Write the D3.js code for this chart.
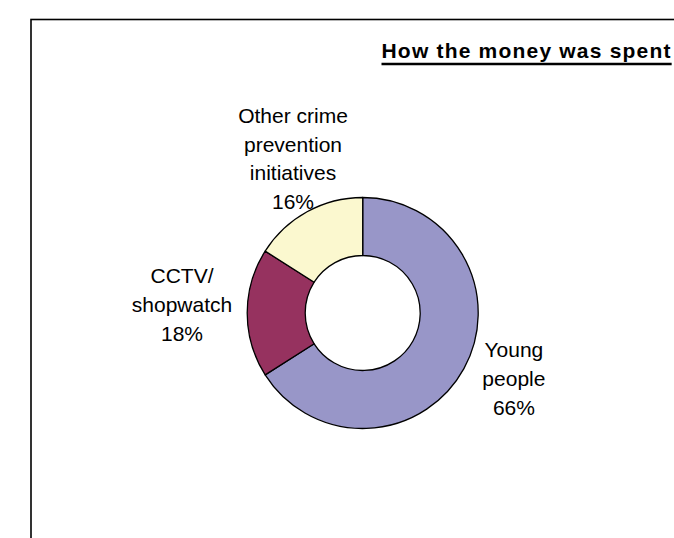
<!DOCTYPE html>
<html>
<head>
<meta charset="utf-8">
<script src="https://cdn.jsdelivr.net/npm/d3@7"></script>
<style>
  html, body { margin: 0; padding: 0; background: #ffffff; }
  svg { display: block; }
  text { font-family: "Liberation Sans", Arial, Helvetica, sans-serif; fill: #000; }
</style>
</head>
<body>
<div id="chart"></div>
<script>
// ---- data ----
const title = "How the money was spent";
const categories = ["Young people", "CCTV/ shopwatch", "Other crime prevention initiatives"];
const labelLines = [["Young", "people"], ["CCTV/", "shopwatch"], ["Other crime", "prevention", "initiatives"]];
const values = [66, 18, 16];
const colors = ["#9896C8", "#96325F", "#FBF8CF"];

// ---- layout ----
const W = 674, H = 538;
const cx = 362.7, cy = 313;
const rOuter = 115.5, rInner = 57.5;
const labelRadius = 160;
const lineH = 28.8;
const nudges = [[11, -11.6], [-20.7, -8.5], [7.4, -14.3]];

const svg = d3.select("#chart").append("svg")
  .attr("width", W).attr("height", H);

// chart frame (extends past right/bottom of the window)
svg.append("rect")
  .attr("x", 31).attr("y", 19.5)
  .attr("width", 800).attr("height", 800)
  .attr("fill", "none").attr("stroke", "#000").attr("stroke-width", 1.6);

// title
const t = svg.append("text")
  .attr("x", 381.5).attr("y", 58.3)
  .attr("font-size", 21).attr("font-weight", "bold")
  .attr("letter-spacing", 1.2)
  .text(title);
const tw = t.node().getComputedTextLength();
svg.append("line")
  .attr("x1", 381.5).attr("x2", 381.5 + tw)
  .attr("y1", 64).attr("y2", 64)
  .attr("stroke", "#000").attr("stroke-width", 2.6);

// donut
const total = d3.sum(values);
const pie = d3.pie().sort(null).value(d => d.v).startAngle(0).endAngle(2 * Math.PI);
const data = pie(values.map((v, i) => ({ v, i, cat: categories[i] })));
const arc = d3.arc().innerRadius(rInner).outerRadius(rOuter);
const labelArc = d3.arc().innerRadius(labelRadius).outerRadius(labelRadius);

const g = svg.append("g").attr("transform", `translate(${cx},${cy})`);
g.selectAll("path.slice").data(data).join("path")
  .attr("class", "slice")
  .attr("d", arc)
  .attr("fill", d => colors[d.data.i])
  .attr("stroke", "#000")
  .attr("stroke-width", 1.3)
  .attr("stroke-linejoin", "round");

// labels
data.forEach(d => {
  const i = d.data.i;
  const [px, py] = labelArc.centroid(d);
  const lx = px + nudges[i][0];
  const ly = py + nudges[i][1];
  const lines = labelLines[i].concat([Math.round(d.data.v / total * 100) + "%"]);
  const n = lines.length;
  const firstBase = ly - (n - 1) / 2 * lineH + 7.5;
  const txt = g.append("text")
    .attr("text-anchor", "middle")
    .attr("font-size", 21);
  lines.forEach((s, k) => {
    txt.append("tspan")
      .attr("x", lx)
      .attr("y", firstBase + k * lineH)
      .text(s);
  });
});
</script>
</body>
</html>
